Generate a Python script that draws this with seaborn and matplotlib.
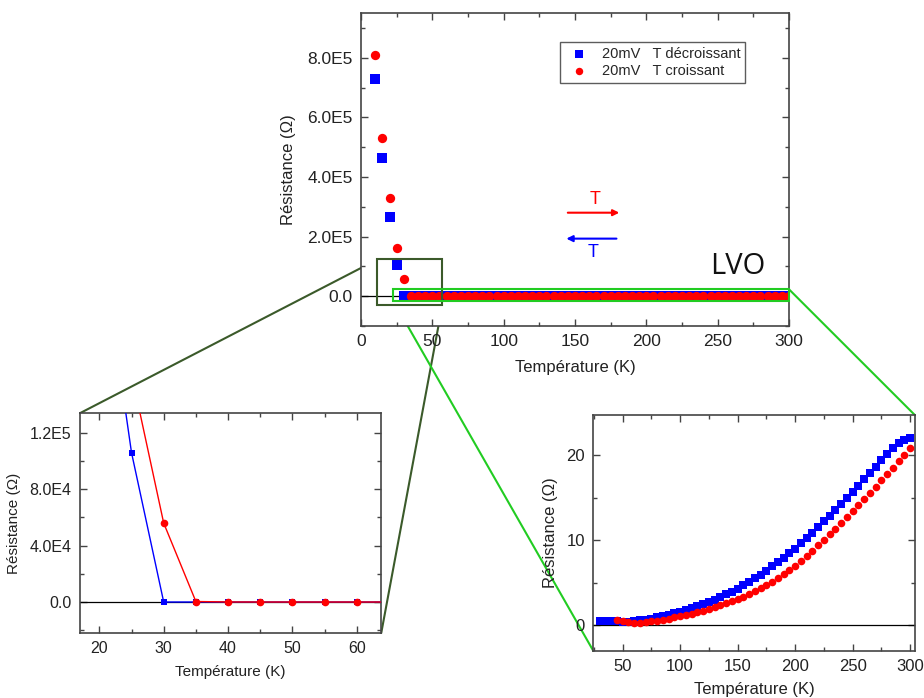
import numpy as np
import pandas as pd
import matplotlib
matplotlib.use('Agg')
import matplotlib.pyplot as plt
import seaborn as sns
from matplotlib.patches import Rectangle, ConnectionPatch
from matplotlib.ticker import FuncFormatter, MultipleLocator

# --- data ---
temp_dec = list(range(10, 305, 5))
res_dec = [7.3e5, 4.65e5, 2.65e5, 1.06e5,
           0.47, 0.50, 0.50, 0.45, 0.40, 0.40, 0.45, 0.55, 0.65, 0.78,
           0.92, 1.07, 1.22, 1.40, 1.58, 1.78, 1.98, 2.20, 2.45, 2.72,
           3.00, 3.30, 3.62, 3.95, 4.30, 4.68, 5.08, 5.50, 5.95, 6.40,
           6.90, 7.40, 7.92, 8.45, 9.00, 9.60, 10.20, 10.85, 11.50, 12.20,
           12.85, 13.55, 14.25, 14.95, 15.65, 16.40, 17.15, 17.85, 18.60,
           19.35, 20.15, 20.80, 21.40, 21.80, 21.95]

temp_cro = list(range(10, 305, 5))
res_cro = [8.1e5, 5.3e5, 3.3e5, 1.62e5, 5.6e4,
           350.0, 40.0, 0.55, 0.43, 0.35, 0.28, 0.30, 0.35, 0.44,
           0.54, 0.65, 0.78, 0.92, 1.05, 1.20, 1.35, 1.52, 1.70, 1.90,
           2.10, 2.32, 2.55, 2.80, 3.05, 3.35, 3.65, 3.98, 4.32, 4.70,
           5.10, 5.52, 5.98, 6.48, 7.00, 7.55, 8.15, 8.75, 9.40, 10.05,
           10.70, 11.35, 12.00, 12.70, 13.40, 14.10, 14.80, 15.50, 16.25,
           17.00, 17.75, 18.50, 19.25, 20.00, 20.80]

label_dec = "20mV   T décroissant"
label_cro = "20mV   T croissant"

dec = pd.DataFrame({"T": temp_dec, "R": res_dec})
cro = pd.DataFrame({"T": temp_cro, "R": res_cro})

BLUE = "#0000ff"
RED = "#ff0000"
DARK_GREEN = "#3b5a2a"
LIGHT_GREEN = "#22cc22"

sns.set_style("ticks")
plt.rcParams['font.family'] = ['Liberation Sans', 'DejaVu Sans']
plt.rcParams['axes.edgecolor'] = '#444444'
plt.rcParams['axes.linewidth'] = 1.2
plt.rcParams['xtick.color'] = '#444444'
plt.rcParams['ytick.color'] = '#444444'
plt.rcParams['xtick.labelcolor'] = '#222222'
plt.rcParams['ytick.labelcolor'] = '#222222'
plt.rcParams['axes.labelcolor'] = '#222222'


def sci(v, pos):
    if abs(v) < 1e-9:
        return "0.0"
    e = int(np.floor(np.log10(abs(v))))
    return f"{v / 10**e:.1f}E{e}"


def style_ticks(ax, size):
    ax.tick_params(which='both', direction='in', top=True, right=True)
    ax.tick_params(which='major', length=5, width=1, labelsize=size, pad=6)
    ax.tick_params(which='minor', length=3, width=1)


fig = plt.figure(figsize=(9.24, 6.98), dpi=100)

# --- main plot ---
ax = fig.add_axes([0.3907, 0.533, 0.4632, 0.4484])
ax.axhline(0, color='black', lw=0.9, zorder=1)
sns.scatterplot(data=dec, x="T", y="R", ax=ax, color=BLUE, marker='s',
                s=45, linewidth=0, label=label_dec, zorder=3)
sns.scatterplot(data=cro, x="T", y="R", ax=ax, color=RED, marker='o',
                s=45, linewidth=0, label=label_cro, zorder=4)
ax.set_xlim(0, 300)
ax.set_ylim(-1e5, 9.5e5)
ax.xaxis.set_major_locator(MultipleLocator(50))
ax.xaxis.set_minor_locator(MultipleLocator(25))
ax.yaxis.set_major_locator(MultipleLocator(2e5))
ax.yaxis.set_minor_locator(MultipleLocator(1e5))
ax.yaxis.set_major_formatter(FuncFormatter(sci))
style_ticks(ax, 12.5)
ax.set_xlabel("Température (K)", fontsize=12, labelpad=8)
ax.set_ylabel("Résistance (Ω)", fontsize=12, labelpad=8)
leg = ax.legend(loc='upper right', bbox_to_anchor=(0.915, 0.93), fontsize=10.5,
                frameon=True, fancybox=False, edgecolor='#333333',
                handletextpad=0.6, borderpad=0.3, labelspacing=0.25,
                markerscale=0.8)
leg.get_frame().set_linewidth(1.0)

# direction arrows
ax.annotate("", xy=(183, 2.8e5), xytext=(143, 2.8e5),
            arrowprops=dict(arrowstyle='-|>', color=RED, lw=1.5,
                            mutation_scale=9))
ax.text(164, 3.25e5, "T", color=RED, fontsize=13, ha='center', va='center')
ax.annotate("", xy=(142, 1.93e5), xytext=(181, 1.93e5),
            arrowprops=dict(arrowstyle='-|>', color=BLUE, lw=1.5,
                            mutation_scale=9))
ax.text(163, 1.45e5, "T", color=BLUE, fontsize=13, ha='center', va='center')
ax.text(264, 1.0e5, "LVO", fontsize=21, ha='center', va='center',
        family=['Open Sans', 'DejaVu Sans'], color='#111111')

# zoom rectangles
ax.add_patch(Rectangle((11.5, -0.3e5), 45.5, 1.53e5, fill=False,
                       ec=DARK_GREEN, lw=1.5, zorder=5))
ax.add_patch(Rectangle((22.7, -0.16e5), 277.3, 0.39e5, fill=False,
                       ec=LIGHT_GREEN, lw=1.5, zorder=5, clip_on=False))

# --- left inset: low temperature ---
ax1 = fig.add_axes([0.0866, 0.0931, 0.326, 0.315])
ax1.axhline(0, color='black', lw=0.9, zorder=1)
sns.lineplot(data=dec, x="T", y="R", ax=ax1, color=BLUE, marker='s',
             markersize=5, markeredgewidth=0, lw=1, zorder=3)
sns.lineplot(data=cro, x="T", y="R", ax=ax1, color=RED, marker='o',
             markersize=5.5, markeredgewidth=0, lw=1, zorder=4)
ax1.set_xlim(17, 63.8)
ax1.set_ylim(-2.2e4, 1.34e5)
ax1.xaxis.set_major_locator(MultipleLocator(10))
ax1.xaxis.set_minor_locator(MultipleLocator(5))
ax1.yaxis.set_major_locator(MultipleLocator(4e4))
ax1.yaxis.set_minor_locator(MultipleLocator(2e4))
ax1.yaxis.set_major_formatter(FuncFormatter(sci))
style_ticks(ax1, 11.5)
ax1.set_xlabel("Température (K)", fontsize=11, labelpad=6)
ax1.set_ylabel("Résistance (Ω)", fontsize=11, labelpad=6)

# --- right inset: high temperature ---
ax2 = fig.add_axes([0.642, 0.0678, 0.348, 0.3377])
ax2.axhline(0, color='black', lw=0.9, zorder=1)
sns.scatterplot(data=dec[dec["T"] >= 30], x="T", y="R", ax=ax2, color=BLUE,
                marker='s', s=28, linewidth=0, zorder=3)
sns.scatterplot(data=cro[cro["T"] >= 35], x="T", y="R", ax=ax2, color=RED,
                marker='o', s=30, linewidth=0, zorder=4)
ax2.set_xlim(24.5, 304)
ax2.set_ylim(-3, 24.7)
ax2.xaxis.set_major_locator(MultipleLocator(50))
ax2.xaxis.set_minor_locator(MultipleLocator(25))
ax2.yaxis.set_major_locator(MultipleLocator(10))
ax2.yaxis.set_minor_locator(MultipleLocator(5))
style_ticks(ax2, 12)
ax2.set_xlabel("Température (K)", fontsize=12, labelpad=6)
ax2.set_ylabel("Résistance (Ω)", fontsize=12, labelpad=6)

# --- connector lines ---
for xyA, xyB, axB, col in [((11.5, 1.23e5), (0, 1), ax1, DARK_GREEN),
                           ((57, -0.3e5), (1, 0), ax1, DARK_GREEN),
                           ((22.7, -0.16e5), (0, 0), ax2, LIGHT_GREEN),
                           ((300, 0.23e5), (1, 1), ax2, LIGHT_GREEN)]:
    cp = ConnectionPatch(xyA=xyA, coordsA=ax.transData, xyB=xyB,
                         coordsB=axB.transAxes, color=col, lw=1.5, zorder=0)
    fig.add_artist(cp)

fig.savefig("out.png", dpi=100)
